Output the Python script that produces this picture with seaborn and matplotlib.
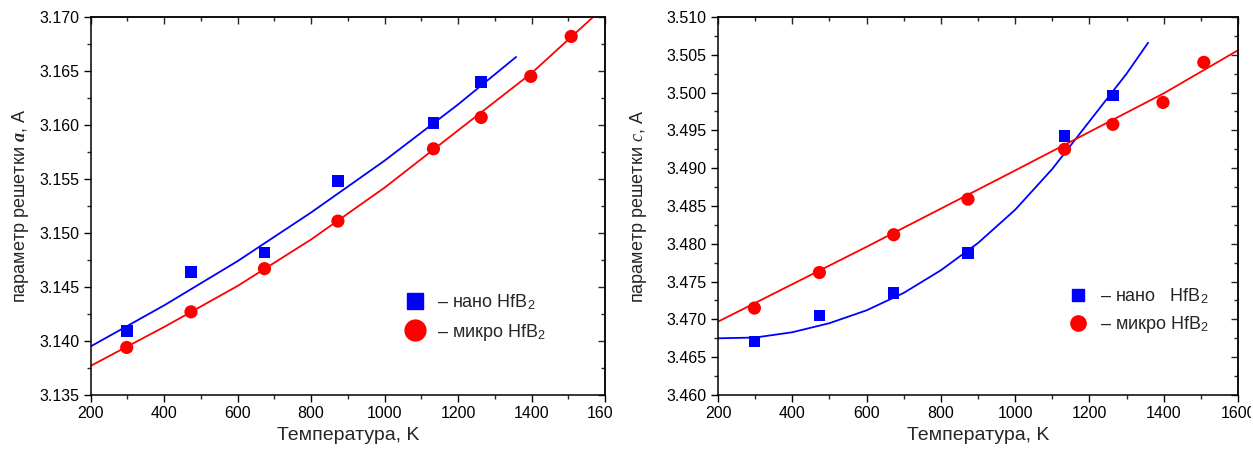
import matplotlib
matplotlib.use("Agg")
import matplotlib.pyplot as plt
import seaborn as sns
from matplotlib.ticker import MultipleLocator, FormatStrFormatter, NullFormatter
from matplotlib.transforms import Bbox, TransformedBbox
from matplotlib.lines import Line2D

# ---------------- data ----------------
T_nano = [298, 473, 673, 873, 1133, 1263]
a_nano = [3.1409, 3.1464, 3.1482, 3.1548, 3.1602, 3.1640]
T_micro = [298, 473, 673, 873, 1133, 1263, 1398, 1508]
a_micro = [3.1394, 3.1427, 3.1467, 3.1511, 3.1578, 3.1607, 3.1645, 3.1682]

fitT_a_nano = [200, 400, 600, 800, 1000, 1200, 1358]
fit_a_nano = [3.1395, 3.1433, 3.1474, 3.1519, 3.1567, 3.1619, 3.1663]
fitT_a_micro = [200, 400, 600, 800, 1000, 1200, 1400, 1600]
fit_a_micro = [3.1377, 3.1413, 3.1451, 3.1494, 3.1542, 3.1595, 3.1648, 3.1710]

c_nano = [3.4671, 3.4705, 3.4735, 3.4788, 3.4943, 3.4996]
c_micro = [3.4715, 3.4762, 3.4812, 3.4859, 3.4925, 3.4958, 3.4987, 3.5040]

fitT_c_nano = [200, 300, 400, 500, 600, 700, 800, 900, 1000, 1100, 1200, 1300, 1358]
fit_c_nano = [3.4675, 3.4676, 3.4683, 3.4695, 3.4712, 3.4735, 3.4765, 3.4801,
              3.4845, 3.4899, 3.4962, 3.5025, 3.5066]
fitT_c_micro = [200, 600, 1000, 1400, 1600]
fit_c_micro = [3.4697, 3.4796, 3.4897, 3.4999, 3.5056]

xticks = [200, 400, 600, 800, 1000, 1200, 1400, 1600]

BLUE = "#0000ff"
RED = "#ff0000"

sns.set_style("ticks")
plt.rcParams["font.family"] = ["Liberation Sans", "DejaVu Sans"]
plt.rcParams["mathtext.fontset"] = "custom"
plt.rcParams["mathtext.rm"] = "Liberation Sans"
plt.rcParams["mathtext.it"] = "Liberation Serif:italic:bold"
plt.rcParams["mathtext.bf"] = "Liberation Serif:italic"

W, H = 1253, 454
fig = plt.figure(figsize=(W / 100, H / 100), dpi=100)

def px_axes(x0, y0, x1, y1):
    return fig.add_axes([x0 / W, 1 - y1 / H, (x1 - x0) / W, (y1 - y0) / H])

axL = px_axes(90.7, 17, 605, 395)
axR = px_axes(718, 17, 1238, 395)

def style(ax, ylim, major, minor, ylabel, clip_x, ypad):
    ax.set_xlim(200, 1600)
    ax.set_ylim(*ylim)
    ax.set_xticks(xticks)
    ax.xaxis.set_minor_locator(MultipleLocator(100))
    ax.yaxis.set_major_locator(MultipleLocator(major))
    ax.yaxis.set_minor_locator(MultipleLocator(minor))
    ax.yaxis.set_major_formatter(FormatStrFormatter("%.3f"))
    for s in ax.spines.values():
        s.set_linewidth(1.1)
        s.set_color("black")
    ax.tick_params(axis="both", which="major", direction="out", length=5, width=1.0,
                   labelsize=11.5, colors="black", pad=3)
    ax.tick_params(axis="both", which="minor", direction="out", length=3, width=1.0)
    # mirrored inward ticks on top and right
    sx = ax.secondary_xaxis("top")
    sx.set_xticks(xticks)
    sx.xaxis.set_minor_locator(MultipleLocator(100))
    sx.xaxis.set_major_formatter(NullFormatter())
    sx.tick_params(which="major", direction="in", length=5, width=1.0)
    sx.tick_params(which="minor", direction="in", length=3, width=1.0)
    sy = ax.secondary_yaxis("right")
    sy.yaxis.set_major_locator(MultipleLocator(major))
    sy.yaxis.set_minor_locator(MultipleLocator(minor))
    sy.yaxis.set_major_formatter(NullFormatter())
    sy.tick_params(which="major", direction="in", length=5, width=1.0)
    sy.tick_params(which="minor", direction="in", length=3, width=1.0)
    for sec in (sx, sy):
        for s in sec.spines.values():
            s.set_linewidth(1.1)
    ax.set_xlabel("Температура, K", fontsize=14, labelpad=4)
    ax.set_ylabel(ylabel, fontsize=13, labelpad=ypad)
    fig.canvas.draw()
    clipbox = TransformedBbox(Bbox([[0, 0], [clip_x / W, 1]]), fig.transFigure)
    for lab in ax.get_xticklabels():
        lab.set_clip_on(True)
        lab.set_clip_box(clipbox)

# ---------- left panel ----------
sns.lineplot(x=fitT_a_nano, y=fit_a_nano, ax=axL, color=BLUE, lw=1.3)
sns.lineplot(x=fitT_a_micro, y=fit_a_micro, ax=axL, color=RED, lw=1.3)
sns.scatterplot(x=T_nano, y=a_nano, ax=axL, marker="s", s=70, color=BLUE, edgecolor="none", zorder=5)
sns.scatterplot(x=T_micro, y=a_micro, ax=axL, marker="o", s=90, color=RED, edgecolor="none", zorder=5)
style(axL, (3.135, 3.170), 0.005, 0.0025, r"параметр решетки $a$, A", 613, 6)

# ---------- right panel ----------
sns.lineplot(x=fitT_c_nano, y=fit_c_nano, ax=axR, color=BLUE, lw=1.3)
sns.lineplot(x=fitT_c_micro, y=fit_c_micro, ax=axR, color=RED, lw=1.3)
sns.scatterplot(x=T_nano, y=c_nano, ax=axR, marker="s", s=70, color=BLUE, edgecolor="none", zorder=5)
sns.scatterplot(x=T_micro, y=c_micro, ax=axR, marker="o", s=90, color=RED, edgecolor="none", zorder=5)
style(axR, (3.460, 3.510), 0.005, 0.0025, r"параметр решетки $\mathbf{c}$, A", 1251, 13)

# ---------- legends (frameless) ----------
hL = [Line2D([], [], ls="none", marker="s", ms=11, color=BLUE),
      Line2D([], [], ls="none", marker="o", ms=15, color=RED)]
axL.legend(hL, ["– нано HfB$_2$", "– микро HfB$_2$"], frameon=False, fontsize=13,
           loc="upper left", bbox_to_anchor=((395 - 90.7) / 514.3, 1 - (283 - 17) / 378),
           handletextpad=0.6, labelspacing=0.55, borderpad=0, handlelength=1.2)
hR = [Line2D([], [], ls="none", marker="s", ms=8, color=BLUE),
      Line2D([], [], ls="none", marker="o", ms=11, color=RED)]
axR.legend(hR, ["– нано   HfB$_2$", "– микро HfB$_2$"], frameon=False, fontsize=13,
           loc="upper left", bbox_to_anchor=((1058 - 718) / 520, 1 - (277 - 17) / 378),
           handletextpad=0.6, labelspacing=0.45, borderpad=0, handlelength=1.2)

fig.savefig("out.png", dpi=100)
